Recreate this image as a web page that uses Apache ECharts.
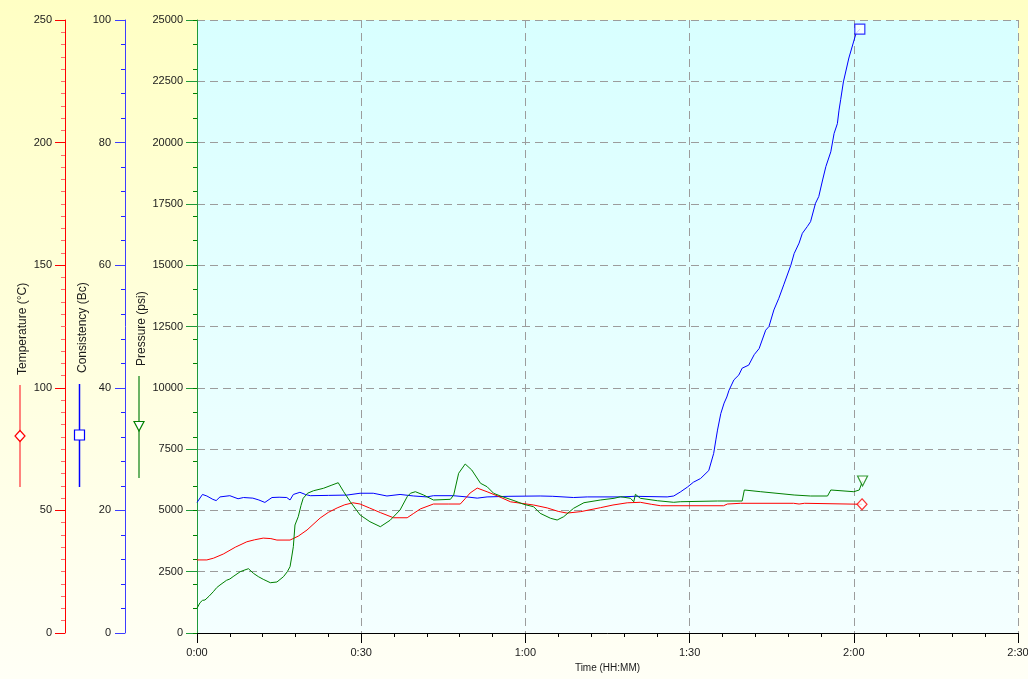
<!DOCTYPE html>
<html>
<head>
<meta charset="utf-8">
<script src="https://cdn.jsdelivr.net/npm/echarts@6/dist/echarts.min.js"></script>
<style>
  html, body { margin: 0; padding: 0; background: #ffffff; }
  #chart { width: 1028px; height: 679px; }
</style>
</head>
<body>
<div id="chart"></div>
<script>
// Elapsed time in minutes, paired with each reading
const temperatureData = [
  [0, 29.8], [1.8, 29.8], [3, 30.5], [4.8, 32.2], [7, 35.0], [9.1, 37.2], [10.5, 38.0], [12.1, 38.7],
  [13.5, 38.5], [14.6, 37.9], [17.0, 37.9], [18.5, 39.5], [20.1, 42.0], [22.5, 46.9], [24, 49.2],
  [25.6, 51.0], [27, 52.3], [28.5, 53.1], [29.8, 52.6], [31.5, 51.0], [33.5, 49.1], [35.9, 47.0],
  [38.4, 47.0], [39.6, 48.8], [40.8, 50.6], [43.2, 52.6], [46, 52.6], [48.1, 52.6], [49.0, 54.8],
  [49.9, 57.1], [51.2, 59.1], [53.0, 57.6], [55, 55.8], [57.3, 53.5], [61.5, 52.2], [64.0, 51.0],
  [66, 49.6], [67.6, 48.9], [70.1, 49.5], [73.7, 51.1], [76, 52.2], [78.6, 53.1], [81.0, 53.3],
  [83, 52.5], [84.7, 51.9], [96.2, 51.9], [96.9, 52.6], [99.3, 52.9], [109.0, 52.9], [110, 52.6],
  [111, 52.9], [121.5, 52.5]
];

const consistencyData = [
  [0, 21.3], [0.2, 21.2], [1.0, 22.6], [1.8, 22.35], [2.9, 21.8], [3.5, 21.6], [4.2, 22.2], [6.0, 22.4],
  [7.5, 21.9], [8.5, 22.1], [10.2, 22.0], [11.3, 21.7], [12.4, 21.3], [13.7, 22.1], [15, 22.15],
  [16.4, 22.1], [17.0, 21.7], [17.6, 22.6], [18.8, 22.95], [19.8, 22.6], [20.7, 22.4], [24, 22.45],
  [27.4, 22.5], [29.8, 22.8], [32.2, 22.8], [34.7, 22.35], [37.1, 22.6], [39.6, 22.35], [42.0, 22.2],
  [43.2, 22.4], [46.8, 22.4], [49.3, 22.2], [51.2, 22.0], [53.0, 22.2], [57, 22.3], [62.7, 22.35],
  [65, 22.3], [68.8, 22.1], [71.3, 22.2], [77.4, 22.2], [80, 22.3], [85.9, 22.2], [87.1, 22.35],
  [88.3, 23.0], [89.6, 23.8], [90.7, 24.6], [92.0, 25.2], [93.5, 26.5], [94.4, 29.3], [94.8, 31.5],
  [95.1, 33.1], [95.7, 35.8], [96.3, 37.5], [96.8, 38.5], [97.2, 39.6], [98.1, 41.3], [99.0, 42.1],
  [99.6, 43.2], [100.8, 43.7], [101.8, 45.4], [102.7, 46.4], [103.9, 49.4], [104.5, 50.0],
  [105.4, 52.7], [106.3, 54.6], [107.2, 56.8], [108.5, 60.0], [109.1, 61.9], [110.0, 63.6],
  [110.6, 65.2], [111.5, 66.3], [112.1, 67.1], [113.0, 70.1], [113.6, 71.2], [114.3, 73.9],
  [114.9, 76.1], [115.8, 78.5], [116.4, 81.5], [117.0, 83.1], [117.3, 85.3], [117.6, 87.0],
  [118.1, 89.9], [119.1, 93.8], [120.4, 97.8], [121.1, 98.5]
];

const pressureData = [
  [0, 1007], [0.55, 1236], [1.0, 1330], [1.46, 1346], [2.2, 1500], [2.98, 1684], [3.6, 1850],
  [4.2, 1957], [5.4, 2150], [6.0, 2202], [6.6, 2300], [7.9, 2500], [8.6, 2560], [9.4, 2622],
  [10.3, 2435], [11.2, 2300], [12.1, 2190], [13.4, 2051], [14.6, 2080], [15.8, 2296], [16.5, 2500],
  [17.0, 2704], [17.3, 3100], [17.6, 3519], [17.9, 4404], [18.5, 4743], [19.0, 5200], [19.4, 5493],
  [20.2, 5700], [21.3, 5803], [23.1, 5901], [24.5, 6020], [25.8, 6129], [26.8, 5762], [28.0, 5354],
  [29.8, 4812], [31.6, 4539], [33.5, 4335], [35.3, 4600], [37.1, 5016], [38.4, 5558], [39.0, 5700],
  [39.9, 5762], [41.4, 5628], [43.2, 5424], [46.3, 5452], [46.9, 5628], [47.8, 6513], [49.0, 6892],
  [50.2, 6647], [51.8, 6105], [53.0, 5966], [54.2, 5697], [55.4, 5590], [57.9, 5400], [59.7, 5248],
  [61.5, 5150], [62.7, 4881], [64.6, 4678], [65.8, 4608], [67.0, 4743], [68.8, 5085], [70.7, 5314],
  [73.7, 5424], [76.2, 5493], [77.4, 5558], [79.2, 5493], [79.8, 5354], [80.1, 5656], [81.0, 5493],
  [84.1, 5395], [87.1, 5330], [88.3, 5354], [95.1, 5383], [99.6, 5383], [100.0, 5832], [103.0, 5762],
  [109.1, 5628], [112.1, 5587], [115.2, 5587], [115.8, 5832], [120.0, 5762], [121.0, 5832], [121.6, 6200]
];

// Axis ranges and tick steps
const timeRange = [0, 150, 30];          // minutes
const pressureRange = [0, 25000, 2500];  // psi
const pressureMinorStep = 1000;
const consistencyRange = [0, 100, 20];   // Bc
const temperatureRange = [0, 250, 50];   // °C

const seriesNames = ['Temperature (°C)', 'Consistency (Bc)', 'Pressure (psi)'];
const timeTitle = 'Time (HH:MM)';

const RED = '#ff0000';
const BLUE = '#0000ff';
const GREEN = '#008000';
const FONT = '"Liberation Sans", Arial, sans-serif';
const TEXT = '#1a1a1a';

function fmtTime(v) {
  const h = Math.floor(v / 60);
  const m = Math.round(v % 60);
  return h + ':' + (m < 10 ? '0' : '') + m;
}
const plain = v => String(v);
const last = arr => [arr[arr.length - 1]];

const chart = echarts.init(document.getElementById('chart'), null, { renderer: 'canvas' });

const dashed = { color: '#9c9c9c', type: [8, 5], width: 1 };

function sideAxis(range, offset, color, minorColor, minorSplit, margin) {
  return {
    type: 'value', position: 'left', offset: offset,
    min: range[0], max: range[1], interval: range[2],
    axisLine: { show: true, onZero: false, lineStyle: { color: color, width: 1 } },
    axisTick: { show: true, length: 10, lineStyle: { color: color } },
    minorTick: minorSplit ? { show: true, splitNumber: minorSplit, length: 4, lineStyle: { color: minorColor } } : { show: false },
    axisLabel: { margin: margin, fontSize: 11, fontFamily: FONT, color: TEXT, formatter: plain },
    splitLine: { show: false }
  };
}

const pressureAxis = sideAxis(pressureRange, 0, '#1f9a3a', GREEN, 0, 14);
pressureAxis.axisTick.length = 11;
pressureAxis.splitLine = { show: true, lineStyle: dashed };

const pressureMinorAxis = {
  type: 'value', position: 'left', offset: 0,
  min: pressureRange[0], max: pressureRange[1], interval: pressureMinorStep,
  axisLine: { show: false },
  axisTick: { show: true, length: 4, lineStyle: { color: GREEN } },
  axisLabel: { show: false },
  splitLine: { show: false }
};

const consistencyAxis = sideAxis(consistencyRange, 72, '#3c3cff', '#2020ff', 5, 14);
const temperatureAxis = sideAxis(temperatureRange, 132, RED, '#ff6a6a', 10, 13);

// Side legend: rotated titles with a line-and-marker sample underneath
function legendItem(cx, textBottom, lineTop, lineBottom, markerY, color, lineColor, title, marker) {
  return [
    {
      type: 'text', x: cx, y: textBottom, rotation: Math.PI / 2,
      style: { text: title, fill: TEXT, font: '12px ' + FONT, align: 'left', verticalAlign: 'middle' }
    },
    {
      type: 'line', shape: { x1: cx - 3, y1: lineTop, x2: cx - 3, y2: lineBottom },
      style: { stroke: lineColor, lineWidth: 1.5 }
    },
    marker(cx - 3, markerY, color)
  ];
}
const diamond = (x, y, c) => ({
  type: 'polygon', shape: { points: [[x, y - 5.5], [x + 5, y], [x, y + 5.5], [x - 5, y]] },
  style: { fill: '#ffffff', stroke: c, lineWidth: 1.2 }
});
const square = (x, y, c) => ({
  type: 'rect', shape: { x: x - 5, y: y - 5, width: 10, height: 10 },
  style: { fill: '#ffffff', stroke: c, lineWidth: 1.2 }
});
const triangle = (x, y, c) => ({
  type: 'polygon', shape: { points: [[x - 5, y - 4.5], [x + 5, y - 4.5], [x, y + 5]] },
  style: { fill: '#ffffff', stroke: c, lineWidth: 1.2 }
});

const option = {
  animation: false,
  backgroundColor: new echarts.graphic.LinearGradient(0, 0, 0, 1, [
    { offset: 0, color: '#ffffc4' },
    { offset: 1, color: '#fffff6' }
  ]),
  textStyle: { fontFamily: FONT },
  grid: {
    left: 197, right: 10, top: 20, bottom: 46,
    outerBoundsMode: 'none', containLabel: false,
    show: true, borderWidth: 0,
    backgroundColor: new echarts.graphic.LinearGradient(0, 0, 0, 1, [
      { offset: 0, color: '#d8ffff' },
      { offset: 1, color: '#f4ffff' }
    ])
  },
  xAxis: {
    type: 'value', min: timeRange[0], max: timeRange[1], interval: timeRange[2],
    axisLine: { show: true, onZero: false, lineStyle: { color: '#000000', width: 1 } },
    axisTick: { show: true, length: 10, lineStyle: { color: '#000000' } },
    minorTick: { show: true, splitNumber: 5, length: 4, lineStyle: { color: '#000000' } },
    axisLabel: { margin: 14, fontSize: 11, fontFamily: FONT, color: TEXT, formatter: fmtTime },
    splitLine: { show: true, lineStyle: dashed },
    name: timeTitle, nameLocation: 'middle', nameGap: 27,
    nameTextStyle: { fontSize: 10, fontFamily: FONT, color: TEXT }
  },
  yAxis: [pressureAxis, pressureMinorAxis, consistencyAxis, temperatureAxis],
  graphic: [].concat(
    legendItem(23, 375, 385, 487, 436, RED, '#ff5a5a', seriesNames[0], diamond),
    legendItem(82.5, 373, 384, 487, 435, BLUE, BLUE, seriesNames[1], square),
    legendItem(142, 366, 376, 478, 426, GREEN, '#3a9a3a', seriesNames[2], triangle)
  ),
  series: [
    {
      name: seriesNames[1], type: 'line', yAxisIndex: 2, data: consistencyData,
      showSymbol: false, lineStyle: { color: BLUE, width: 1 }, z: 3
    },
    {
      name: seriesNames[0], type: 'line', yAxisIndex: 3, data: temperatureData,
      showSymbol: false, lineStyle: { color: RED, width: 1 }, z: 4
    },
    {
      name: seriesNames[2], type: 'line', yAxisIndex: 0, data: pressureData,
      showSymbol: false, lineStyle: { color: GREEN, width: 1 }, z: 5
    },
    {
      type: 'scatter', yAxisIndex: 3, data: last(temperatureData), symbol: 'diamond', symbolSize: [10, 11],
      itemStyle: { color: '#ffffff', borderColor: RED, borderWidth: 1.2 }, z: 6
    },
    {
      type: 'scatter', yAxisIndex: 2, data: last(consistencyData), symbol: 'rect', symbolSize: 10,
      itemStyle: { color: '#ffffff', borderColor: BLUE, borderWidth: 1.2 }, z: 6
    },
    {
      type: 'scatter', yAxisIndex: 0, data: last(pressureData), symbol: 'triangle', symbolRotate: 180,
      symbolSize: [10, 10], itemStyle: { color: '#ffffff', borderColor: GREEN, borderWidth: 1.2 }, z: 6
    }
  ]
};

chart.setOption(option);
</script>
</body>
</html>
